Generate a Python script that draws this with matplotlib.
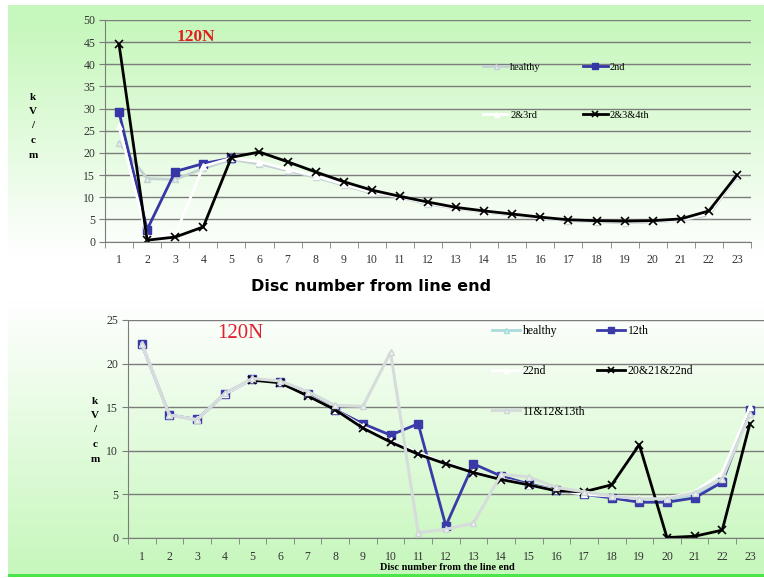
import numpy as np
import matplotlib
matplotlib.use("Agg")
import matplotlib.pyplot as plt

# disc positions along the string
discs = list(range(1, 24))
nan = np.nan

# upper chart, 120N, faults near the line end (kV/cm)
top_healthy = [22.3, 14.2, 14.0, 16.5, 18.5, 17.5, 16.0, 14.5, 12.7, 10.9, 10.0, 8.4,
               7.5, 6.6, 6.0, 5.3, 4.7, 4.5, 4.2, 4.4, 4.8, 6.0, 14.8]
top_2nd = [29.2, 2.7, 15.8, 17.6, 18.8, nan, nan, nan, nan, nan, nan, nan,
           nan, nan, nan, nan, nan, nan, nan, nan, nan, nan, nan]
top_2_3 = [26.0, 1.0, 1.5, 17.0, 18.8, 18.0, 16.3, 14.8, 12.9, 11.1, 10.1, 8.6,
           7.6, 6.7, 6.1, 5.4, 4.8, 4.6, 4.4, 4.5, 4.9, 6.3, 14.9]
top_2_3_4 = [44.5, 0.3, 1.0, 3.3, 19.0, 20.2, 18.0, 15.7, 13.5, 11.6, 10.2, 8.9,
             7.7, 6.9, 6.2, 5.5, 4.9, 4.7, 4.6, 4.7, 5.1, 6.9, 15.0]

# lower chart, 120N, faults in the middle and near the tower end
bot_healthy = [22.2, 14.1, 13.6, 16.5, 18.2, 17.9, 16.5, 14.7, 12.8, 11.2, 9.8, 8.6,
               7.6, 6.8, 6.1, 5.5, 5.0, 4.8, 4.5, 4.4, 5.0, 6.6, 14.6]
bot_12th = [22.2, 14.1, 13.6, 16.5, 18.2, 17.9, 16.5, 14.7, 13.1, 11.8, 13.1, 1.4,
            8.5, 7.1, 6.2, 5.5, 5.0, 4.6, 4.1, 4.1, 4.6, 6.4, 14.7]
bot_22nd = [22.2, 14.1, 13.6, 16.5, 18.2, 17.9, 16.4, 14.7, 12.8, 11.2, 9.8, 8.6,
            7.6, 6.8, 6.1, 5.5, 5.0, 4.8, 4.6, 4.6, 5.3, 7.5, 15.0]
bot_20_21_22 = [nan, nan, nan, nan, 18.1, 17.8, 16.3, 14.7, 12.6, 11.0, 9.6, 8.5,
                7.5, 6.7, 6.1, 5.4, 5.3, 6.1, 10.7, 0.05, 0.2, 0.9, 13.1]
bot_11_12_13 = [22.3, 14.1, 13.5, 16.6, 18.3, 18.0, 16.8, 15.2, 15.1, 21.3, 0.6, 1.0,
                1.7, 7.3, 7.0, 5.8, 5.3, 4.8, 4.5, 4.5, 5.2, 6.8, 14.2]

W, H = 764, 578
fig = plt.figure(figsize=(W / 100, H / 100), dpi=100)

# green slide background
yy = np.arange(H)[:, None].astype(float)
a_top = np.clip((255 - yy) / 230, 0, 1)
a_bot = np.clip((yy - 300) / 270, 0, 1)
a = np.maximum(a_top, a_bot) * np.ones((1, W))
green = np.array([0.78, 0.97, 0.74])
bg = np.ones((H, W, 3)) * (1 - a[..., None]) + green * a[..., None]
bg[:5, :] = 1
bg[:, :8] = 1
bg[574:577, 8:] = [0.3, 0.9, 0.3]
bg[577:, :] = 1
bax = fig.add_axes([0, 0, 1, 1])
bax.imshow(bg, aspect="auto", interpolation="bilinear")
bax.set_axis_off()

serif = "Liberation Serif"
grid_c = "#7c7c7c"


def frame(ax, ymax, ystep):
    ax.set_facecolor("none")
    ax.set_xlim(0.5, 23.5)
    ax.set_ylim(0, ymax)
    ax.set_yticks(np.arange(0, ymax + 1, ystep))
    ax.set_xticks(discs)
    ax.set_xticks(np.arange(0.5, 24, 1), minor=True)
    ax.grid(axis="y", color=grid_c, lw=1.0)
    ax.set_axisbelow(True)
    for s in ["top", "right"]:
        ax.spines[s].set_visible(False)
    for s in ["left", "bottom"]:
        ax.spines[s].set_color(grid_c)
    ax.tick_params(axis="x", which="major", length=0, pad=9, labelsize=8.5,
                   labelcolor="#333333")
    ax.tick_params(axis="x", which="minor", length=4, color=grid_c)
    ax.tick_params(axis="y", length=4, color=grid_c, pad=3, labelsize=8.5,
                   labelcolor="#333333")
    for lab in ax.get_xticklabels() + ax.get_yticklabels():
        lab.set_fontfamily(serif)


# ---- upper chart
ax1 = fig.add_axes([105 / W, 1 - 241.5 / H, 646 / W, 221.5 / H])
frame(ax1, 50, 5)
h1, = ax1.plot(discs, top_healthy, color="#c4d2d2", lw=2.0, marker="^", ms=4.5,
               mfc="#e6eeee", mec="#c4d2d2", label="healthy")
h2, = ax1.plot(discs, top_2nd, color="#3636a6", lw=2.0, marker="s", ms=6,
               label="2nd")
h3, = ax1.plot(discs, top_2_3, color="white", lw=2.0, marker="^", ms=4.5,
               mfc="white", mec="white", label="2&3rd")
h4, = ax1.plot(discs, top_2_3_4, color="black", lw=2.0, marker="x", ms=5.5,
               mew=1.2, label="2&3&4th")
ax1.legend([h1, h3, h2, h4], ["healthy", "2&3rd", "2nd", "2&3&4th"], ncol=2,
           loc="upper left", bbox_to_anchor=(478 / W, 1 - 57 / H),
           bbox_transform=fig.transFigure, frameon=False, borderpad=0,
           handlelength=2.4, handletextpad=0.2, columnspacing=4.0,
           labelspacing=3.75, markerscale=0.8,
           prop={"family": serif, "size": 7.5})
ax1.text(177 / W, 1 - 37 / H, "120N", transform=fig.transFigure, color="#e02020",
         fontsize=12.5, fontweight="bold", family=serif, va="center")
fig.text(371 / W, 1 - 287 / H, "Disc number from line end", ha="center",
         va="center", fontsize=11.5, fontweight="bold", family="DejaVu Sans")
for i, ch in enumerate("kV/cm"):
    fig.text(33 / W, 1 - (97 + i * 14.5) / H, ch, ha="center", va="center",
             fontsize=8, fontweight="bold", family=serif)

# ---- lower chart
ax2 = fig.add_axes([128 / W, 1 - 538 / H, 635.7 / W, 218 / H])
frame(ax2, 25, 5)
g1, = ax2.plot(discs, bot_healthy, color="#a8dcdc", lw=2.0, marker="^", ms=4.5,
               mfc="#d8f0f0", mec="#a8dcdc", label="healthy")
g2, = ax2.plot(discs, bot_12th, color="#3a3aa8", lw=2.0, marker="s", ms=6,
               label="12th")
g3, = ax2.plot(discs, bot_22nd, color="white", lw=2.0, marker="^", ms=4.5,
               mfc="white", mec="white", label="22nd")
g4, = ax2.plot(discs, bot_20_21_22, color="black", lw=2.0, marker="x", ms=5.5,
               mew=1.2, label="20&21&22nd")
g5, = ax2.plot(discs, bot_11_12_13, color="#d6dcdc", lw=2.2, marker="^", ms=4.5,
               mfc="#eef2f2", mec="#cfd6d6", label="11&12&13th")
ax2.legend([g1, g3, g5, g2, g4],
           ["healthy", "22nd", "11&12&13th", "12th", "20&21&22nd"], ncol=2,
           loc="upper left", bbox_to_anchor=(486 / W, 1 - 319 / H),
           bbox_transform=fig.transFigure, frameon=False, borderpad=0,
           handlelength=2.4, handletextpad=0.2, columnspacing=1.0,
           labelspacing=2.4, markerscale=0.8,
           prop={"family": serif, "size": 8.5})
fig.text(217 / W, 1 - 333 / H, "120N", color="#e02030", fontsize=15,
         family=serif, va="center")
fig.text(447 / W, 1 - 567 / H, "Disc number from the line end", ha="center",
         va="center", fontsize=7.5, fontweight="bold", family=serif)
for i, ch in enumerate("kV/cm"):
    fig.text(95 / W, 1 - (401 + i * 14.5) / H, ch, ha="center", va="center",
             fontsize=8, fontweight="bold", family=serif)

fig.savefig("out.png", dpi=100)
